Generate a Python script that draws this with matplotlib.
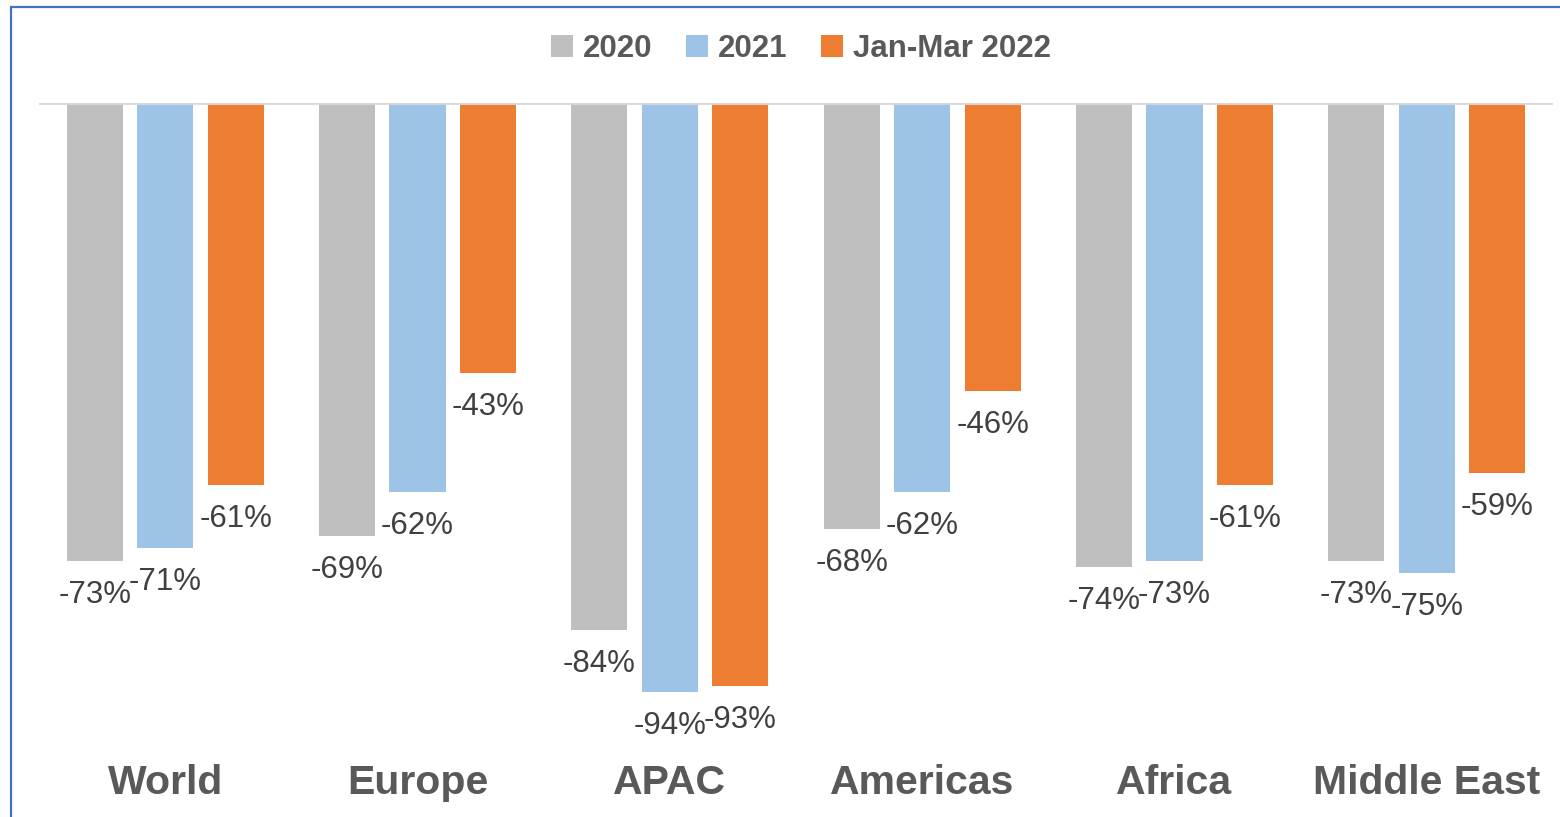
import matplotlib.pyplot as plt
from matplotlib.patches import Rectangle
import numpy as np

regions = ['World', 'Europe', 'APAC', 'Americas', 'Africa', 'Middle East']
series = ['2020', '2021', 'Jan-Mar 2022']
vals_2020 = [-73, -69, -84, -68, -74, -73]
vals_2021 = [-71, -62, -94, -62, -73, -75]
vals_2022 = [-61, -43, -93, -46, -61, -59]

colors = ['#BFBFBF', '#9DC3E6', '#ED7D31']
plt.rcParams['font.family'] = ['Liberation Sans', 'DejaVu Sans']

W, H = 1560, 817
fig = plt.figure(figsize=(W / 100, H / 100), dpi=100, facecolor='white')
# axes: zero line at 103 px from top, 100% = 627 px
ax = fig.add_axes([39 / W, 1 - 730 / H, (1553 - 39) / W, 627 / H])
ax.set_xlim(-0.5, 5.5)
ax.set_ylim(-100, 0)

x = np.arange(len(regions))
step = 0.279
width = 0.222
for i, (name, vals) in enumerate(zip(series, [vals_2020, vals_2021, vals_2022])):
    pos = x + (i - 1) * step
    bars = ax.bar(pos, vals, width, color=colors[i], label=name, zorder=2)
    for xp, v in zip(pos, vals):
        ax.annotate(f'{v}%', (xp, v), xytext=(0, -34), textcoords='offset pixels',
                    ha='center', va='center', fontsize=22.5, color='#404040')

ax.axhline(0, color='#D9D9D9', lw=2, zorder=3)
for xp, name in zip(x, regions):
    ax.text(xp, -108.5, name, ha='center', va='center', fontsize=29.5,
            fontweight='bold', color='#595959', clip_on=False)

for s in ax.spines.values():
    s.set_visible(False)
ax.set_xticks([])
ax.set_yticks([])

leg = fig.legend(loc='center', bbox_to_anchor=(801 / W, 1 - 49 / H), ncol=3,
                 frameon=False, handlelength=0.7, handleheight=0.7,
                 handletextpad=0.3, columnspacing=1.1,
                 prop={'size': 22.5, 'weight': 'bold'})
for t in leg.get_texts():
    t.set_color('#595959')

# outer frame
fig.patches.append(Rectangle((10.5 / W, -0.1), 2, 1.1 - 6.5 / H, transform=fig.transFigure,
                             fill=False, edgecolor='#4472C4', lw=1.6))

plt.savefig('out.png', dpi=100, facecolor='white')
